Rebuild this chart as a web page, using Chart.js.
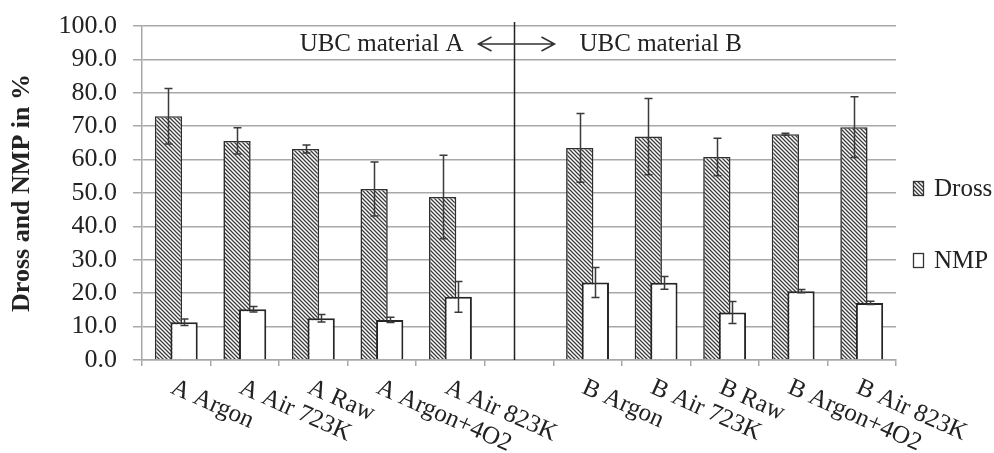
<!DOCTYPE html>
<html>
<head>
<meta charset="utf-8">
<script src="https://cdn.jsdelivr.net/npm/chart.js@4.4.1/dist/chart.umd.min.js"></script>
<style>
html,body{margin:0;padding:0;background:#fff;}
canvas{display:block;}
</style>
</head>
<body>
<canvas id="c" width="994" height="453"></canvas>
<script>
// ---- data ----
const categories = ['A Argon','A Air 723K','A Raw','A Argon+4O2','A Air 823K','','B Argon','B Air 723K','B Raw','B Argon+4O2','B Air 823K'];
const drossValues = [73.0, 65.6, 63.2, 51.2, 48.8, null, 63.5, 66.9, 60.8, 67.6, 69.7];
const drossErrors = [8.3, 3.9, 1.2, 8.1, 12.5, null, 10.3, 11.4, 5.6, 0.3, 9.1];
const nmpValues   = [11.3, 15.2, 12.5, 12.0, 18.9, null, 23.2, 23.1, 14.2, 20.6, 17.1];
const nmpErrors   = [1.0, 0.8, 1.1, 0.8, 4.6, null, 4.5, 1.9, 3.3, 0.5, 0.5];
const seriesNames = ['Dross', 'NMP'];
const groupLabels = ['UBC material A', 'UBC material B'];
const yTitle = 'Dross and NMP in %';

const SERIF = '"Liberation Serif", "Times New Roman", serif';
const TEXT = '#222';
const GRID = '#a8a8a8';

function hatchPattern() {
  const s = 4;
  const c = document.createElement('canvas');
  c.width = s; c.height = s;
  const g = c.getContext('2d');
  g.fillStyle = '#ffffff';
  g.fillRect(0, 0, s, s);
  g.strokeStyle = '#3c3c3c';
  g.lineWidth = 1.3;
  g.beginPath();
  g.moveTo(-1, -1); g.lineTo(s + 1, s + 1);
  g.moveTo(s - 1, -1); g.lineTo(s + 1, 1);
  g.moveTo(-1, s - 1); g.lineTo(1, s + 1);
  g.stroke();
  return document.getElementById('c').getContext('2d').createPattern(c, 'repeat');
}
const hatch = hatchPattern();
const errorsBySeries = [drossErrors, nmpErrors];

const overlay = {
  id: 'overlay',
  beforeDatasetDraw(chart, args) {
    // NMP is drawn later so that it sits on top of the overlapping Dross bar
    if (args.index === 1) return false;
  },
  afterDatasetsDraw(chart) {
    const ctx = chart.ctx;
    const xs = chart.scales.x, ys = chart.scales.y, area = chart.chartArea;
    ctx.save();
    chart.getDatasetMeta(1).controller.draw();
    ctx.restore();

    // error bars
    ctx.save();
    ctx.strokeStyle = '#3a3a3a';
    ctx.lineWidth = 1.5;
    [0, 1].forEach(di => {
      const meta = chart.getDatasetMeta(di);
      const vals = chart.data.datasets[di].data;
      const errs = errorsBySeries[di];
      meta.data.forEach((el, i) => {
        if (vals[i] == null || errs[i] == null) return;
        const cx = Math.round(el.x) + 0.5;
        const yt = ys.getPixelForValue(vals[i] + errs[i]);
        const yb = ys.getPixelForValue(vals[i] - errs[i]);
        ctx.beginPath();
        ctx.moveTo(cx, yt); ctx.lineTo(cx, yb);
        ctx.moveTo(cx - 4, yt); ctx.lineTo(cx + 4, yt);
        ctx.moveTo(cx - 4, yb); ctx.lineTo(cx + 4, yb);
        ctx.stroke();
      });
    });
    ctx.restore();

    // divider between material A and B
    const xDiv = Math.round(xs.getPixelForValue(4.92)) + 0.5;
    ctx.save();
    ctx.strokeStyle = '#222';
    ctx.lineWidth = 1.5;
    ctx.beginPath();
    ctx.moveTo(xDiv, area.top - 4);
    ctx.lineTo(xDiv, ys.getPixelForValue(0));
    ctx.stroke();

    // double arrow
    const ay = ys.getPixelForValue(94.6);
    const x1 = xDiv - 36, x2 = xDiv + 40;
    ctx.lineWidth = 1.6;
    ctx.strokeStyle = '#333';
    ctx.beginPath();
    ctx.moveTo(x1, ay); ctx.lineTo(x2, ay);
    ctx.moveTo(x1 + 13, ay - 7); ctx.lineTo(x1, ay); ctx.lineTo(x1 + 13, ay + 7);
    ctx.moveTo(x2 - 13, ay - 7); ctx.lineTo(x2, ay); ctx.lineTo(x2 - 13, ay + 7);
    ctx.stroke();

    // group texts
    ctx.fillStyle = TEXT;
    ctx.font = '25px ' + SERIF;
    ctx.textBaseline = 'middle';
    ctx.textAlign = 'right';
    ctx.fillText(groupLabels[0], xDiv - 51, ay);
    ctx.textAlign = 'left';
    ctx.fillText(groupLabels[1], xDiv + 65, ay);

    // rotated category labels
    ctx.font = '25px ' + SERIF;
    ctx.textAlign = 'left';
    ctx.textBaseline = 'top';
    const base = ys.getPixelForValue(0);
    categories.forEach((lab, i) => {
      if (!lab) return;
      const px = xs.getPixelForValue(i);
      ctx.save();
      ctx.translate(px + 1, base + 15);
      ctx.rotate(24 * Math.PI / 180);
      ctx.fillText(lab, 0, 0);
      ctx.restore();
    });

    // legend
    const lx = area.right + 17;
    const ly = [ys.getPixelForValue(51.5), ys.getPixelForValue(30)];
    chart.data.datasets.forEach((ds, di) => {
      const cy = Math.round(ly[di]);
      ctx.fillStyle = ds.backgroundColor;
      ctx.fillRect(lx, cy - 7, 10, 14);
      ctx.strokeStyle = '#333';
      ctx.lineWidth = 1.3;
      ctx.strokeRect(lx + 0.5, cy - 6.5, 10, 14);
      ctx.fillStyle = TEXT;
      ctx.font = '25px ' + SERIF;
      ctx.textAlign = 'left';
      ctx.textBaseline = 'middle';
      ctx.fillText(ds.label, lx + 21, cy + 1);
    });
    ctx.restore();
  }
};

new Chart(document.getElementById('c'), {
  type: 'bar',
  data: {
    labels: categories,
    datasets: [
      {
        label: seriesNames[0],
        data: drossValues,
        backgroundColor: hatch,
        borderColor: '#2e2e2e',
        borderWidth: 1.6,
        borderSkipped: 'bottom'
      },
      {
        label: seriesNames[1],
        data: nmpValues,
        backgroundColor: '#ffffff',
        borderColor: '#262626',
        borderWidth: 2,
        borderSkipped: 'bottom'
      }
    ]
  },
  options: {
    responsive: false,
    animation: false,
    devicePixelRatio: 1,
    categoryPercentage: 0.455,
    barPercentage: 1.75,
    layout: { padding: { top: 26, left: 6, right: 98, bottom: 87 } },
    plugins: {
      legend: { display: false },
      tooltip: { enabled: false }
    },
    scales: {
      x: {
        type: 'category',
        ticks: { display: false },
        grid: { display: true, drawOnChartArea: false, drawTicks: true, tickLength: 6, color: GRID, lineWidth: 1.5, offset: true },
        border: { display: true, color: GRID, width: 1.5 }
      },
      y: {
        min: 0,
        max: 100,
        afterFit(scale) {
          scale.width = 136;
          scale.paddingTop = 0;
          scale.paddingBottom = 0;
        },
        ticks: {
          stepSize: 10,
          callback: v => Number(v).toFixed(1),
          font: { family: SERIF, size: 26 },
          color: TEXT,
          padding: 16,
          autoSkip: false
        },
        grid: { color: GRID, lineWidth: 1.5, tickLength: 9 },
        border: { display: true, color: GRID, width: 1.5 },
        title: {
          display: true,
          text: yTitle,
          font: { family: SERIF, size: 26, weight: 'bold' },
          color: TEXT,
          padding: { top: 1, bottom: 10 }
        }
      }
    }
  },
  plugins: [overlay]
});
</script>
</body>
</html>
